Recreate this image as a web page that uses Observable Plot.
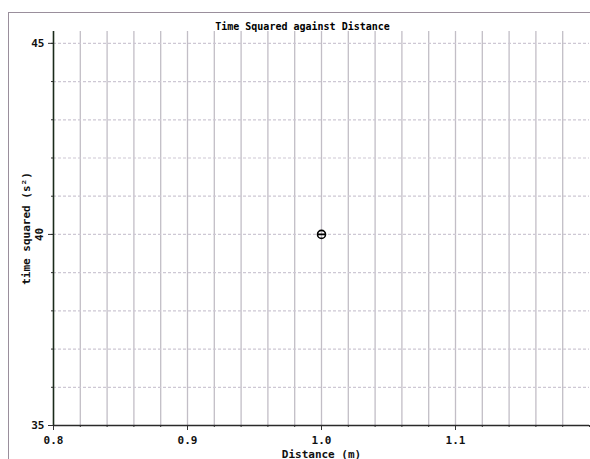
<!DOCTYPE html>
<html>
<head>
<meta charset="utf-8">
<script src="https://cdn.jsdelivr.net/npm/d3@7"></script>
<script src="https://cdn.jsdelivr.net/npm/@observablehq/plot@0.6"></script>
<style>
  html, body { margin: 0; padding: 0; background: #fff; overflow: hidden; }
  #wrap { position: relative; width: 590px; height: 459px; overflow: hidden; }
  #border { position: absolute; left: 8px; top: 12px; width: 600px; height: 470px; border: 1px solid #9a8f9c; box-sizing: border-box; pointer-events: none; }
  #chart { position: absolute; left: 0; top: 0; }
</style>
</head>
<body>
<div id="wrap"><div id="chart"></div><div id="border"></div></div>
<script>
const title = "Time Squared against Distance";
const xLabel = "Distance (m)";
const yLabel = "time squared (s²)";
const distance = [1.0];
const timeSquared = [40];
const xMajorTicks = [0.8, 0.9, 1.0, 1.1];
const xGrid = d3.range(41, 60).map(i => i / 50);   // 0.82 … 1.18
const yMajorTicks = [35, 45];
const yRotatedTicks = [40];
const yGrid = d3.range(36, 46);                     // 36 … 45
const xMinorTicks = d3.range(40, 61).map(i => i / 50);
const yMinorTicks = d3.range(35, 46);

const points = distance.map((d, i) => ({x: d, y: timeSquared[i]}));

const thetaSymbol = {
  draw(ctx, size) {
    const r = Math.sqrt(size / Math.PI);
    ctx.moveTo(r, 0);
    ctx.arc(0, 0, r, 0, 2 * Math.PI);
    ctx.moveTo(-r, 0);
    ctx.lineTo(r, 0);
  }
};

const font = "DejaVu Sans Mono";

const chart = Plot.plot({
  width: 590,
  height: 459,
  marginLeft: 53,
  marginRight: 1,
  marginTop: 31,
  marginBottom: 34,
  style: {fontFamily: font, fontSize: "11px", fontWeight: "bold", color: "#111", background: "transparent"},
  x: {domain: [0.8, 1.2]},
  y: {domain: [35, 45.31]},
  marks: [
    Plot.ruleX(xGrid, {stroke: "#c2bec6", strokeWidth: 1.3}),
    Plot.ruleY(yGrid, {stroke: "#cdc8d4", strokeWidth: 1.2, strokeDasharray: "3,2"}),
    Plot.axisX({ticks: xMinorTicks, tickSize: 2, text: null, label: null, stroke: "#333"}),
    Plot.axisY({ticks: yMinorTicks, tickSize: 2, text: null, label: null, stroke: "#333"}),
    Plot.axisX({ticks: xMajorTicks, tickSize: 5, tickPadding: 6, tickFormat: d => d.toFixed(1),
      fontSize: 11, label: null, stroke: "#333"}),
    Plot.axisX({ticks: [], tickSize: 0, label: xLabel, labelAnchor: "center", labelOffset: 32, labelArrow: "none", fontSize: 11}),
    Plot.axisY({ticks: yMajorTicks, tickSize: 5, tickPadding: 4,
      label: yLabel, labelAnchor: "center", labelOffset: 31, labelArrow: "none", fontSize: 11, stroke: "#333"}),
    Plot.axisY({ticks: yRotatedTicks, tickSize: 5, tickPadding: 6, tickRotate: -90, label: null, fontSize: 11, stroke: "#333"}),
    Plot.ruleX([0.8], {stroke: "#1a2a1a", strokeWidth: 1.6}),
    Plot.ruleY([35], {stroke: "#2a2a2a", strokeWidth: 1.6}),
    Plot.dot(points, {x: "x", y: "y", r: 4, symbol: thetaSymbol, stroke: "#000", strokeWidth: 1.6, fill: "none"}),
    Plot.text([title], {frameAnchor: "top", dy: -9, dx: -19, fontSize: 10, fontWeight: "bold", fill: "#000"})
  ]
});
document.getElementById("chart").appendChild(chart);
</script>
</body>
</html>
